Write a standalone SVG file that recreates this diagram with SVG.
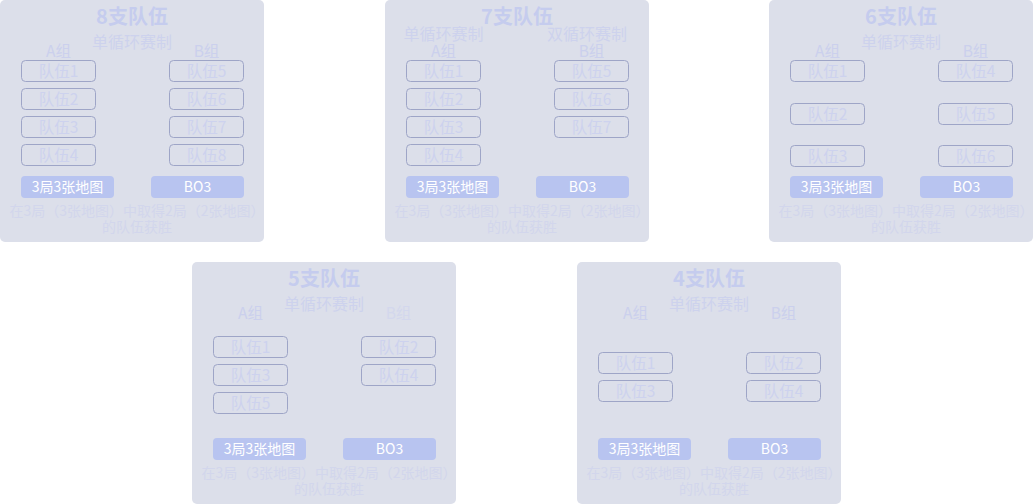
<svg xmlns="http://www.w3.org/2000/svg" width="1033" height="504" viewBox="0 0 1033 504">
<style>
text{font-family:"Noto Sans CJK SC","Noto Sans",sans-serif;text-anchor:middle}
.panel{fill:#dcdfea}
.title{font-size:20px;font-weight:bold;fill:#c5ccee}
.sub{font-size:16px;fill:#cdd2ed}
.grp{font-size:15.5px;fill:#cbd0ed}
.grpf{font-size:15.5px;fill:#d3d7ed}
.tb{fill:none;stroke:#9ea5c7;stroke-width:1}
.tt{font-size:15.5px;fill:#cdd2ee}
.btn rect{fill:#b8c4f0}
.btn text{font-size:14px;fill:#ffffff}
.note{font-size:14px;fill:#d2d6ec}
</style>
<g id="connectors"/>

<!-- Panel 8 -->
<g id="panel-8" transform="translate(0,0)">
<rect class="panel" x="0" y="0" width="264" height="242" rx="5"/>
<text class="title" x="132" y="24">8支队伍</text>
<text class="sub" x="132" y="48">单循环赛制</text>
<text class="grp" x="58.5" y="57">A组</text>
<text class="grp" x="206.5" y="57">B组</text>
<g id="p8-t1"><rect class="tb" x="21.5" y="60.5" width="74" height="21" rx="4"/><text class="tt" x="58.5" y="77">队伍1</text></g>
<g id="p8-t2"><rect class="tb" x="21.5" y="88.5" width="74" height="21" rx="4"/><text class="tt" x="58.5" y="105">队伍2</text></g>
<g id="p8-t3"><rect class="tb" x="21.5" y="116.5" width="74" height="21" rx="4"/><text class="tt" x="58.5" y="133">队伍3</text></g>
<g id="p8-t4"><rect class="tb" x="21.5" y="144.5" width="74" height="21" rx="4"/><text class="tt" x="58.5" y="161">队伍4</text></g>
<g id="p8-t5"><rect class="tb" x="169.5" y="60.5" width="74" height="21" rx="4"/><text class="tt" x="206.5" y="77">队伍5</text></g>
<g id="p8-t6"><rect class="tb" x="169.5" y="88.5" width="74" height="21" rx="4"/><text class="tt" x="206.5" y="105">队伍6</text></g>
<g id="p8-t7"><rect class="tb" x="169.5" y="116.5" width="74" height="21" rx="4"/><text class="tt" x="206.5" y="133">队伍7</text></g>
<g id="p8-t8"><rect class="tb" x="169.5" y="144.5" width="74" height="21" rx="4"/><text class="tt" x="206.5" y="161">队伍8</text></g>
<g class="btn"><rect x="21" y="176" width="93" height="22" rx="4"/><text x="67.5" y="192">3局3张地图</text></g>
<g class="btn"><rect x="151" y="176" width="93" height="22" rx="4"/><text x="197.5" y="192">BO3</text></g>
<text class="note" x="137" y="216">在3局（3张地图）中取得2局（2张地图）</text>
<text class="note" x="137" y="232">的队伍获胜</text>
</g>

<!-- Panel 7 -->
<g id="panel-7" transform="translate(385,0)">
<rect class="panel" x="0" y="0" width="264" height="242" rx="5"/>
<text class="title" x="132" y="24">7支队伍</text>
<text class="sub" x="58.5" y="40">单循环赛制</text>
<text class="sub" x="202" y="40">双循环赛制</text>
<text class="grp" x="58.5" y="57">A组</text>
<text class="grp" x="206.5" y="57">B组</text>
<g id="p7-t1"><rect class="tb" x="21.5" y="60.5" width="74" height="21" rx="4"/><text class="tt" x="58.5" y="77">队伍1</text></g>
<g id="p7-t2"><rect class="tb" x="21.5" y="88.5" width="74" height="21" rx="4"/><text class="tt" x="58.5" y="105">队伍2</text></g>
<g id="p7-t3"><rect class="tb" x="21.5" y="116.5" width="74" height="21" rx="4"/><text class="tt" x="58.5" y="133">队伍3</text></g>
<g id="p7-t4"><rect class="tb" x="21.5" y="144.5" width="74" height="21" rx="4"/><text class="tt" x="58.5" y="161">队伍4</text></g>
<g id="p7-t5"><rect class="tb" x="169.5" y="60.5" width="74" height="21" rx="4"/><text class="tt" x="206.5" y="77">队伍5</text></g>
<g id="p7-t6"><rect class="tb" x="169.5" y="88.5" width="74" height="21" rx="4"/><text class="tt" x="206.5" y="105">队伍6</text></g>
<g id="p7-t7"><rect class="tb" x="169.5" y="116.5" width="74" height="21" rx="4"/><text class="tt" x="206.5" y="133">队伍7</text></g>
<g class="btn"><rect x="21" y="176" width="93" height="22" rx="4"/><text x="67.5" y="192">3局3张地图</text></g>
<g class="btn"><rect x="151" y="176" width="93" height="22" rx="4"/><text x="197.5" y="192">BO3</text></g>
<text class="note" x="137" y="216">在3局（3张地图）中取得2局（2张地图）</text>
<text class="note" x="137" y="232">的队伍获胜</text>
</g>

<!-- Panel 6 -->
<g id="panel-6" transform="translate(769,0)">
<rect class="panel" x="0" y="0" width="264" height="242" rx="5"/>
<text class="title" x="132" y="24">6支队伍</text>
<text class="sub" x="132" y="48">单循环赛制</text>
<text class="grp" x="58.5" y="57">A组</text>
<text class="grp" x="206.5" y="57">B组</text>
<g id="p6-t1"><rect class="tb" x="21.5" y="60.5" width="74" height="21" rx="4"/><text class="tt" x="58.5" y="77">队伍1</text></g>
<g id="p6-t2"><rect class="tb" x="21.5" y="103.5" width="74" height="21" rx="4"/><text class="tt" x="58.5" y="120">队伍2</text></g>
<g id="p6-t3"><rect class="tb" x="21.5" y="145.5" width="74" height="21" rx="4"/><text class="tt" x="58.5" y="162">队伍3</text></g>
<g id="p6-t4"><rect class="tb" x="169.5" y="60.5" width="74" height="21" rx="4"/><text class="tt" x="206.5" y="77">队伍4</text></g>
<g id="p6-t5"><rect class="tb" x="169.5" y="103.5" width="74" height="21" rx="4"/><text class="tt" x="206.5" y="120">队伍5</text></g>
<g id="p6-t6"><rect class="tb" x="169.5" y="145.5" width="74" height="21" rx="4"/><text class="tt" x="206.5" y="162">队伍6</text></g>
<g class="btn"><rect x="21" y="176" width="93" height="22" rx="4"/><text x="67.5" y="192">3局3张地图</text></g>
<g class="btn"><rect x="151" y="176" width="93" height="22" rx="4"/><text x="197.5" y="192">BO3</text></g>
<text class="note" x="137" y="216">在3局（3张地图）中取得2局（2张地图）</text>
<text class="note" x="137" y="232">的队伍获胜</text>
</g>

<!-- Panel 5 -->
<g id="panel-5" transform="translate(192,262)">
<rect class="panel" x="0" y="0" width="264" height="242" rx="5"/>
<text class="title" x="132" y="24">5支队伍</text>
<text class="sub" x="132" y="48">单循环赛制</text>
<text class="grp" x="58.5" y="57">A组</text>
<text class="grpf" x="206.5" y="57">B组</text>
<g id="p5-t1"><rect class="tb" x="21.5" y="74.5" width="74" height="21" rx="4"/><text class="tt" x="58.5" y="91">队伍1</text></g>
<g id="p5-t3"><rect class="tb" x="21.5" y="102.5" width="74" height="21" rx="4"/><text class="tt" x="58.5" y="119">队伍3</text></g>
<g id="p5-t5"><rect class="tb" x="21.5" y="130.5" width="74" height="21" rx="4"/><text class="tt" x="58.5" y="147">队伍5</text></g>
<g id="p5-t2"><rect class="tb" x="169.5" y="74.5" width="74" height="21" rx="4"/><text class="tt" x="206.5" y="91">队伍2</text></g>
<g id="p5-t4"><rect class="tb" x="169.5" y="102.5" width="74" height="21" rx="4"/><text class="tt" x="206.5" y="119">队伍4</text></g>
<g class="btn"><rect x="21" y="176" width="93" height="22" rx="4"/><text x="67.5" y="192">3局3张地图</text></g>
<g class="btn"><rect x="151" y="176" width="93" height="22" rx="4"/><text x="197.5" y="192">BO3</text></g>
<text class="note" x="137" y="216">在3局（3张地图）中取得2局（2张地图）</text>
<text class="note" x="137" y="232">的队伍获胜</text>
</g>

<!-- Panel 4 -->
<g id="panel-4" transform="translate(577,262)">
<rect class="panel" x="0" y="0" width="264" height="242" rx="5"/>
<text class="title" x="132" y="24">4支队伍</text>
<text class="sub" x="132" y="48">单循环赛制</text>
<text class="grp" x="58.5" y="57">A组</text>
<text class="grp" x="206.5" y="57">B组</text>
<g id="p4-t1"><rect class="tb" x="21.5" y="90.5" width="74" height="21" rx="4"/><text class="tt" x="58.5" y="107">队伍1</text></g>
<g id="p4-t3"><rect class="tb" x="21.5" y="118.5" width="74" height="21" rx="4"/><text class="tt" x="58.5" y="135">队伍3</text></g>
<g id="p4-t2"><rect class="tb" x="169.5" y="90.5" width="74" height="21" rx="4"/><text class="tt" x="206.5" y="107">队伍2</text></g>
<g id="p4-t4"><rect class="tb" x="169.5" y="118.5" width="74" height="21" rx="4"/><text class="tt" x="206.5" y="135">队伍4</text></g>
<g class="btn"><rect x="21" y="176" width="93" height="22" rx="4"/><text x="67.5" y="192">3局3张地图</text></g>
<g class="btn"><rect x="151" y="176" width="93" height="22" rx="4"/><text x="197.5" y="192">BO3</text></g>
<text class="note" x="137" y="216">在3局（3张地图）中取得2局（2张地图）</text>
<text class="note" x="137" y="232">的队伍获胜</text>
</g>
</svg>
